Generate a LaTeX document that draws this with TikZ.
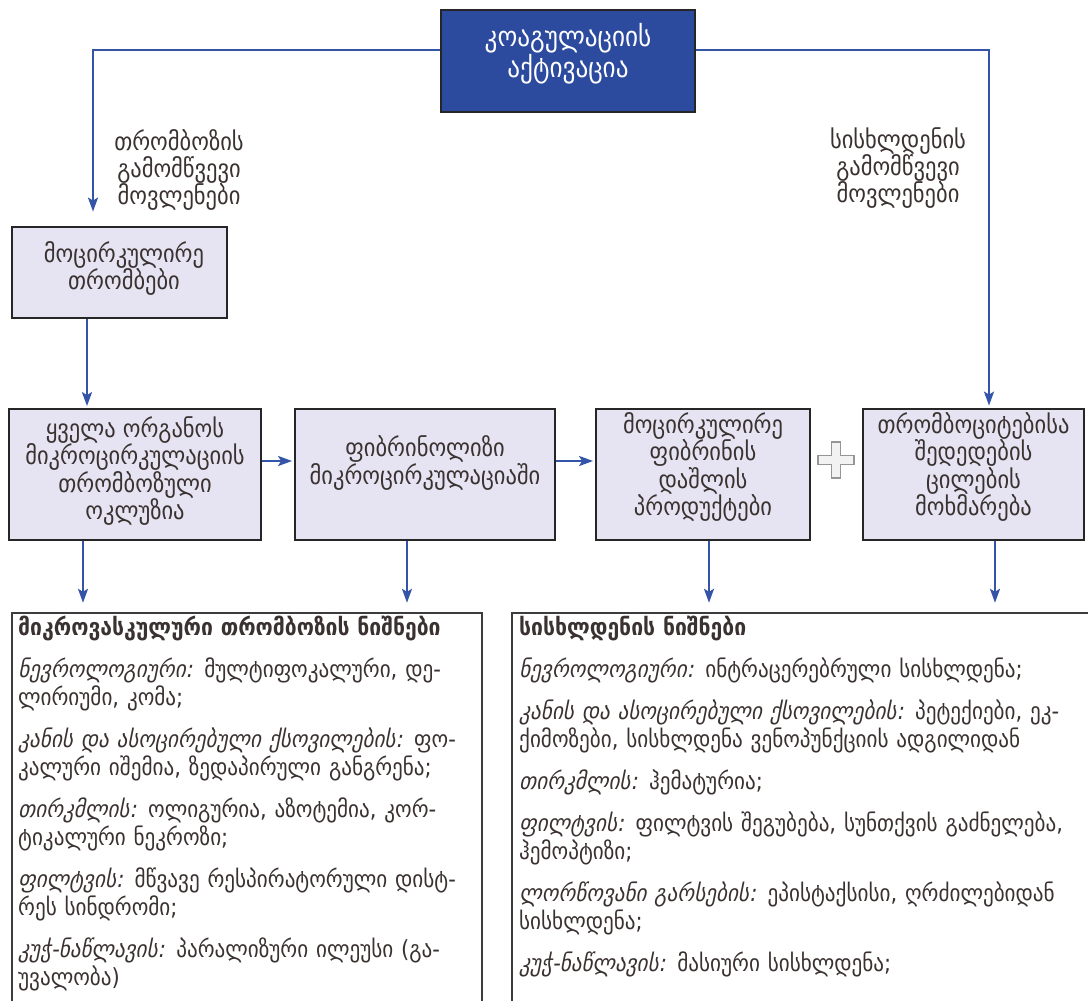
\documentclass[tikz,border=0pt]{standalone}
\usepackage{fontspec}
\setmainfont{DejaVu Sans Condensed}
\newfontfamily\geoit{DejaVu Sans Condensed}[FakeSlant=0.2]
\usetikzlibrary{arrows.meta}
\definecolor{ink}{RGB}{58,50,48}
\definecolor{flowblue}{RGB}{52,84,168}
\definecolor{headblue}{RGB}{44,74,158}
\definecolor{boxfill}{RGB}{230,228,242}
\definecolor{boxline}{RGB}{38,38,38}
\definecolor{plusgray}{RGB}{150,150,150}
% a justified (spread) line inside a signs box
\newcommand{\jl}[1]{\makebox[\linewidth][s]{#1}}

\begin{document}
\begin{tikzpicture}[x=1pt,y=-1pt,
  arr/.style={draw=flowblue, line width=2.2pt, -{Stealth[length=14pt,width=10pt,inset=3pt]}},
  flowbox/.style={draw=boxline, line width=2.8pt, fill=boxfill, inner sep=0pt},
  headbox/.style={draw=boxline, line width=2.5pt, fill=headblue, inner sep=0pt},
  signbox/.style={draw=boxline!90, line width=2.4pt, fill=white, inner sep=0pt},
  boxtext/.style={text=ink, align=center, inner sep=0pt, font=\fontsize{25}{27.5}\selectfont},
  headtext/.style={text=white, align=center, inner sep=0pt, font=\fontsize{28}{28}\selectfont},
  cause/.style={text=ink, align=center, inner sep=0pt, font=\fontsize{25}{27}\selectfont},
  signtext/.style={text=ink, align=left, anchor=north west, inner sep=0pt, font=\fontsize{23.5}{28}\selectfont}
]
\useasboundingbox (0,0) rectangle (1088,1001);
\clip (0,0) rectangle (1088,1001);

% boxes
\node[headbox, minimum width=254pt, minimum height=102pt] (act) at (568,61) {};
\node[flowbox, minimum width=215pt, minimum height=91pt] (lt) at (119.5,272.5) {};
\node[flowbox, minimum width=252pt, minimum height=131pt] (b1) at (135,474.5) {};
\node[flowbox, minimum width=260pt, minimum height=131pt] (b2) at (425,474.5) {};
\node[flowbox, minimum width=214pt, minimum height=131pt] (b3) at (703,474.5) {};
\node[flowbox, minimum width=221pt, minimum height=131pt] (b4) at (973.5,474.5) {};
\node[signbox, minimum width=470pt, minimum height=417pt] (lb) at (247,821.5) {};
\node[signbox, minimum width=588pt, minimum height=417pt] (rb) at (806,821.5) {};

% box texts
\node[headtext] (t-act) at (568,53.5) {კოაგულაციის\\აქტივაცია};
\node[boxtext] (t-lt) at (124,268.5) {მოცირკულირე\\თრომბები};
\node[boxtext] (t-b1) at (135,471) {ყველა ორგანოს\\მიკროცირკულაციის\\თრომბოზული\\ოკლუზია};
\node[boxtext] (t-b2) at (425,463) {ფიბრინოლიზი\\მიკროცირკულაციაში};
\node[boxtext] (t-b3) at (703,467) {მოცირკულირე\\ფიბრინის\\დაშლის\\პროდუქტები};
\node[boxtext] (t-b4) at (973.5,467) {თრომბოციტებისა\\შედედების\\ცილების\\მოხმარება};

% causes
\node[cause] (c-left) at (179,170) {თრომბოზის\\გამომწვევი\\მოვლენები};
\node[cause] (c-right) at (898,168) {სისხლდენის\\გამომწვევი\\მოვლენები};

% connectors
\draw[arr, shorten >=14pt] ([yshift=11pt]act.west) -| ([xshift=-26.5pt]lt.north);
\draw[arr, shorten >=2pt] ([yshift=11pt]act.east) -| ([xshift=15.5pt]b4.north);
\draw[arr, shorten >=1.5pt] ([xshift=-32.5pt]lt.south) -- ([xshift=-32.5pt]lt.south |- b1.north);
\draw[arr, shorten >=1.5pt] ([yshift=13.5pt]b1.east) -- ([yshift=13.5pt]b2.west);
\draw[arr, shorten >=1.5pt] ([yshift=13.5pt]b2.east) -- ([yshift=13.5pt]b3.west);
\draw[arr, shorten >=9pt] ([xshift=-52pt]b1.south) -- ([xshift=-52pt]b1.south |- lb.north);
\draw[arr, shorten >=9pt] ([xshift=-18pt]b2.south) -- ([xshift=-18pt]b2.south |- lb.north);
\draw[arr, shorten >=9pt] ([xshift=6pt]b3.south) -- ([xshift=6pt]b3.south |- rb.north);
\draw[arr, shorten >=9pt] ([xshift=21.5pt]b4.south) -- ([xshift=21.5pt]b4.south |- rb.north);

% plus sign between the two sources of consumption
\draw[plusgray, fill=white!90!gray, line width=1.6pt]
  (831.5,442) -- (840.5,442) -- (840.5,455.5) -- (854,455.5) -- (854,464.5)
  -- (840.5,464.5) -- (840.5,478) -- (831.5,478) -- (831.5,464.5) -- (818,464.5)
  -- (818,455.5) -- (831.5,455.5) -- cycle;

% signs of microvascular thrombosis
\node[signtext, text width=458pt] (t-lb) at (18,616) {%
\jl{\bfseries მიკროვასკულური თრომბოზის ნიშნები}\\[14pt]
\jl{{\geoit ნევროლოგიური:} მულტიფოკალური, დე-}\\
ლირიუმი, კომა;\\[14pt]
\jl{{\geoit კანის და ასოცირებული ქსოვილების:} ფო-}\\
კალური იშემია, ზედაპირული განგრენა;\\[14pt]
\jl{{\geoit თირკმლის:} ოლიგურია, აზოტემია, კორ-}\\
ტიკალური ნეკროზი;\\[14pt]
\jl{{\geoit ფილტვის:} მწვავე რესპირატორული დისტ-}\\
რეს სინდრომი;\\[14pt]
\jl{{\geoit კუჭ-ნაწლავის:} პარალიზური ილეუსი (გა-}\\
უვალობა)};

% signs of bleeding
\node[signtext, text width=566pt] (t-rb) at (519,616) {%
\textbf{სისხლდენის ნიშნები}\\[14pt]
{\geoit ნევროლოგიური:} ინტრაცერებრული სისხლდენა;\\[14pt]
\jl{{\geoit კანის და ასოცირებული ქსოვილების:} პეტექიები, ეკ-}\\
ქიმოზები, სისხლდენა ვენოპუნქციის ადგილიდან\\[14pt]
{\geoit თირკმლის:} ჰემატურია;\\[14pt]
\jl{{\geoit ფილტვის:} ფილტვის შეგუბება, სუნთქვის გაძნელება,}\\
ჰემოპტიზი;\\[14pt]
\jl{{\geoit ლორწოვანი გარსების:} ეპისტაქსისი, ღრძილებიდან}\\
სისხლდენა;\\[14pt]
{\geoit კუჭ-ნაწლავის:} მასიური სისხლდენა;};
\end{tikzpicture}
\end{document}
